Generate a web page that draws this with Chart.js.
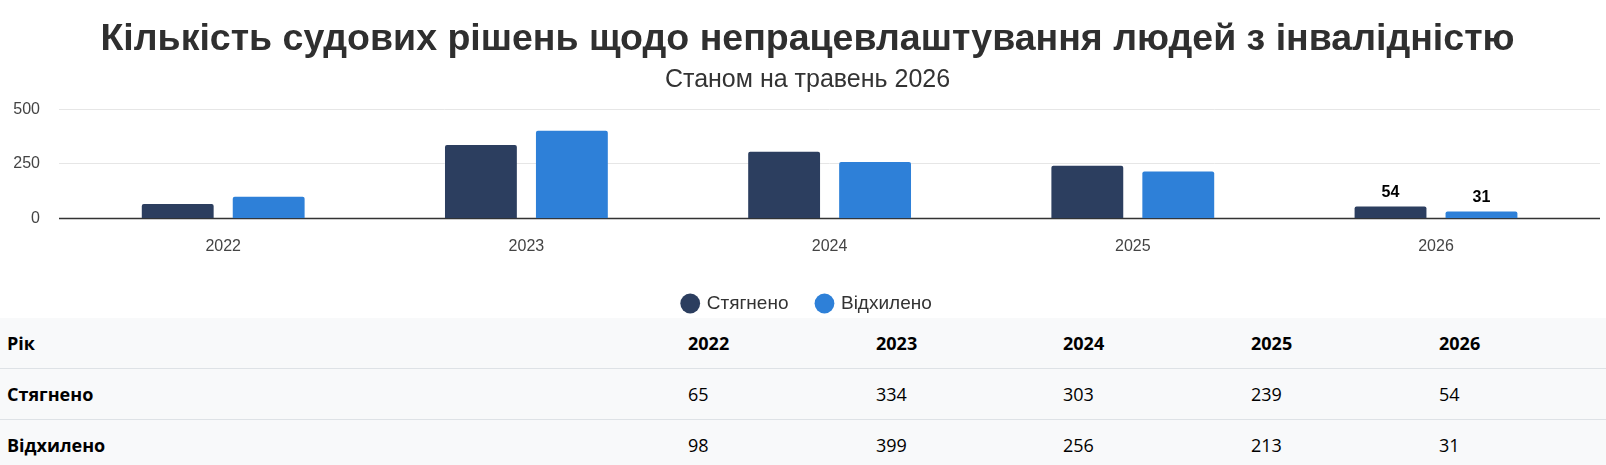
<!DOCTYPE html>
<html>
<head>
<meta charset="utf-8">
<script src="https://cdn.jsdelivr.net/npm/chart.js@4.4.1/dist/chart.umd.min.js"></script>
<style>
  html, body { margin: 0; padding: 0; background: #fff; }
  #wrap { width: 1606px; height: 318px; position: relative; }
  table.data {
    width: 1606px; border-collapse: collapse; table-layout: fixed;
    background: #f8f9fa; font-family: 'Open Sans', sans-serif; font-size: 18px; color: #000;
  }
  table.data td, table.data th { padding: 0 7px; height: 50px; text-align: left; white-space: nowrap; }
  table.data tr + tr td, table.data tr + tr th { border-top: 1px solid #dee2e6; }
  table.data th { font-weight: 700; }
  table.data td { font-weight: 400; }
</style>
</head>
<body>
<div id="wrap"><canvas id="courtChart"></canvas></div>
<table class="data" id="dataTable">
  <colgroup>
    <col style="width:681px"><col style="width:188px"><col style="width:187px"><col style="width:188px"><col style="width:188px"><col>
  </colgroup>
  <tbody></tbody>
</table>
<script>
const years = ['2022', '2023', '2024', '2025', '2026']
const recovered = [65, 334, 303, 239, 54]   // Стягнено
const rejected = [98, 399, 256, 213, 31]    // Відхилено
const yTicks = [0, 250, 500]
const labeledYears = ['2026']

const seriesNames = ['Стягнено', 'Відхилено']
const seriesColors = ['#2c3e5f', '#2e80d8']

const chartFont = "'Liberation Sans', Arial, sans-serif"

// horizontal grid lines (and their labels) run a bit past the plot area, like in the original
const wideGrid = {
  id: 'wideGrid',
  beforeDatasetsDraw(chart) {
    const ctx = chart.ctx
    const y = chart.scales.y
    ctx.save()
    ctx.font = "16px " + chartFont
    ctx.fillStyle = '#444'
    ctx.textAlign = 'right'
    ctx.textBaseline = 'middle'
    yTicks.forEach(function(v) {
      const py = Math.round(y.getPixelForValue(v)) + 0.5
      ctx.beginPath()
      ctx.moveTo(59, py)
      ctx.lineTo(1600, py)
      if (v === 0) {
        ctx.strokeStyle = '#333'
        ctx.lineWidth = 1.5
      } else {
        ctx.strokeStyle = '#e6e6e6'
        ctx.lineWidth = 1
      }
      ctx.stroke()
      ctx.fillText(String(v), 40, py)
    })
    ctx.restore()
  }
}

// value labels only above selected years
const barLabels = {
  id: 'barLabels',
  afterDatasetsDraw(chart) {
    const ctx = chart.ctx
    ctx.save()
    ctx.font = "bold 16px " + chartFont
    ctx.fillStyle = '#000'
    ctx.textAlign = 'center'
    ctx.textBaseline = 'bottom'
    chart.data.datasets.forEach(function(ds, di) {
      const meta = chart.getDatasetMeta(di)
      meta.data.forEach(function(bar, i) {
        if (labeledYears.indexOf(years[i]) === -1) return
        ctx.fillText(ds.data[i], bar.x, bar.y - 6)
      })
    })
    ctx.restore()
  }
}

// keep the legend box short so it sits right above the table
const shortLegend = {
  id: 'shortLegend',
  beforeLayout(chart) {
    const lg = chart.legend
    if (lg && !lg._short) {
      const fit = lg.fit
      lg.fit = function() {
        fit.call(this)
        this.height = 53
      }
      lg._short = true
    }
  }
}

const ctx = document.getElementById('courtChart')
new Chart(ctx, {
  type: 'bar',
  data: {
    labels: years,
    datasets: [
      { label: seriesNames[0], data: recovered, backgroundColor: seriesColors[0], borderRadius: 2 },
      { label: seriesNames[1], data: rejected, backgroundColor: seriesColors[1], borderRadius: 2 }
    ]
  },
  options: {
    responsive: true,
    maintainAspectRatio: false,
    animation: false,
    categoryPercentage: 0.6,
    barPercentage: 0.79,
    layout: { padding: { left: 27.4, right: 18.4, top: 0, bottom: 0 } },
    scales: {
      x: {
        grid: { display: false, drawTicks: false },
        border: { display: false },
        ticks: { color: '#444', font: { family: chartFont, size: 16 }, padding: 19 },
        afterFit: function(scale) { scale.height = 46.7 }
      },
      y: {
        min: 0,
        max: 500,
        grid: { display: false, drawTicks: false },
        border: { display: false },
        ticks: { stepSize: 250, display: false },
        afterFit: function(scale) { scale.width = 44.2 }
      }
    },
    plugins: {
      title: {
        display: true,
        text: 'Кількість судових рішень щодо непрацевлаштування людей з інвалідністю',
        color: '#2f2f2f',
        font: { family: chartFont, size: 37.5, weight: 'bold', lineHeight: 1.2 },
        padding: { top: 17, bottom: 3 }
      },
      subtitle: {
        display: true,
        text: 'Станом на травень 2026',
        color: '#333',
        font: { family: chartFont, size: 25, lineHeight: 1.2 },
        padding: { top: 0, bottom: 13.5 }
      },
      legend: {
        position: 'bottom',
        labels: {
          usePointStyle: true,
          pointStyle: 'circle',
          boxWidth: 14,
          boxHeight: 14,
          padding: 29,
          color: '#333',
          font: { family: chartFont, size: 19 }
        }
      },
      tooltip: { enabled: false }
    }
  },
  plugins: [wideGrid, barLabels, shortLegend]
})

// table under the chart
const tbody = document.querySelector('#dataTable tbody')
function addRow(name, values, bold) {
  const tr = document.createElement('tr')
  const th = document.createElement('th')
  th.textContent = name
  tr.appendChild(th)
  values.forEach(function(v) {
    const cell = document.createElement(bold ? 'th' : 'td')
    cell.textContent = v
    tr.appendChild(cell)
  })
  tbody.appendChild(tr)
}
addRow('Рік', years, true)
addRow(seriesNames[0], recovered, false)
addRow(seriesNames[1], rejected, false)
</script>
</body>
</html>
